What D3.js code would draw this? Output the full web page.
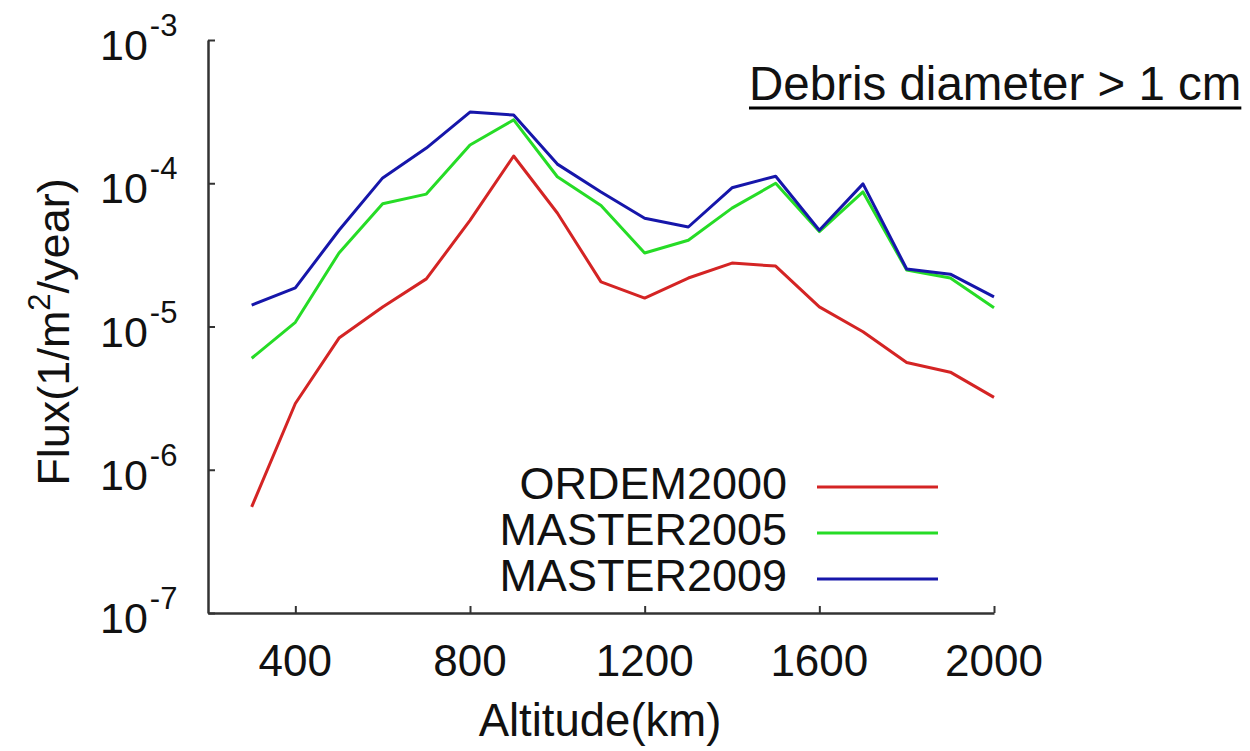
<!DOCTYPE html>
<html>
<head>
<meta charset="utf-8">
<script src="https://cdn.jsdelivr.net/npm/d3@7"></script>
<style>
  body { margin: 0; background: #fff; }
  text { font-family: "Liberation Sans", Arial, sans-serif; fill: #111; }
</style>
</head>
<body>
<div id="chart"></div>
<script>
// Altitude steps (km) and flux values (1/m^2/year).
const ALTITUDES = [300, 400, 500, 600, 700, 800, 900, 1000, 1100, 1200, 1300, 1400, 1500, 1600, 1700, 1800, 1900, 2000];
const ORDEM2000 = [5.5e-7, 2.9e-6, 8.3e-6, 1.37e-5, 2.15e-5, 5.5e-5, 1.55e-4, 6.2e-5, 2.05e-5, 1.58e-5, 2.18e-5, 2.77e-5, 2.64e-5, 1.37e-5, 9.2e-6, 5.6e-6, 4.8e-6, 3.2e-6];
const MASTER2005 = [6.0e-6, 1.07e-5, 3.26e-5, 7.2e-5, 8.4e-5, 1.85e-4, 2.77e-4, 1.11e-4, 7.0e-5, 3.26e-5, 4.0e-5, 6.7e-5, 1.0e-4, 4.6e-5, 8.7e-5, 2.48e-5, 2.18e-5, 1.35e-5];
const MASTER2009 = [1.41e-5, 1.86e-5, 4.7e-5, 1.09e-4, 1.76e-4, 3.14e-4, 2.99e-4, 1.36e-4, 8.7e-5, 5.7e-5, 4.95e-5, 9.3e-5, 1.12e-4, 4.7e-5, 9.9e-5, 2.52e-5, 2.32e-5, 1.61e-5];

const SERIES_NAMES = ['ORDEM2000', 'MASTER2005', 'MASTER2009'];
const SERIES_VALUES = [ORDEM2000, MASTER2005, MASTER2009];
const SERIES_COLORS = ['#d42424', '#26dc26', '#1616aa'];

const X_TICKS = [400, 800, 1200, 1600, 2000];
const Y_EXPONENTS = [-3, -4, -5, -6, -7];

const width = 1250;
const height = 751;
const plot = {left: 208, right: 994, top: 40, bottom: 613};

const svg = d3.select('#chart').append('svg')
    .attr('width', width)
    .attr('height', height);

const xScale = d3.scaleLinear()
    .domain([200, 2000])
    .range([plot.left, plot.right]);

const yScale = d3.scaleLog()
    .domain([1e-7, 1e-3])
    .range([plot.bottom, plot.top]);

// Axes, gnuplot style: ticks point inward.
const xAxis = d3.axisBottom(xScale)
    .tickValues(X_TICKS)
    .tickSizeInner(-7)
    .tickSizeOuter(0)
    .tickPadding(0)
    .tickFormat('');

const yAxis = d3.axisLeft(yScale)
    .tickValues(Y_EXPONENTS.map(e => Math.pow(10, e)))
    .tickSizeInner(-7)
    .tickSizeOuter(0)
    .tickFormat('');

const xAxisG = svg.append('g')
    .attr('transform', `translate(0,${plot.bottom})`)
    .call(xAxis);

const yAxisG = svg.append('g')
    .attr('transform', `translate(${plot.left},0)`)
    .call(yAxis);

[xAxisG, yAxisG].forEach(g => {
    g.selectAll('.domain').attr('stroke', '#333').attr('stroke-width', 2.5);
    g.selectAll('.tick line').attr('stroke', '#333').attr('stroke-width', 2);
});

// X tick labels.
svg.append('g').selectAll('text')
    .data(X_TICKS)
    .join('text')
    .attr('x', d => xScale(d))
    .attr('y', 676)
    .attr('text-anchor', 'middle')
    .style('font-size', '44px')
    .text(d => d);

// Y tick labels as 10 with a superscript exponent.
const yLabels = svg.append('g').selectAll('text')
    .data(Y_EXPONENTS)
    .join('text')
    .attr('x', 100)
    .attr('y', d => yScale(Math.pow(10, d)) + 20)
    .style('font-size', '43px');

yLabels.append('tspan').text('10');
yLabels.append('tspan')
    .attr('dy', -24)
    .attr('dx', 2)
    .style('font-size', '31px')
    .text(d => d);

// Axis titles.
svg.append('text')
    .attr('x', 600)
    .attr('y', 736)
    .attr('text-anchor', 'middle')
    .style('font-size', '45.5px')
    .text('Altitude(km)');

const yTitle = svg.append('text')
    .attr('transform', 'translate(69,332) rotate(-90)')
    .attr('text-anchor', 'middle')
    .style('font-size', '45px');
yTitle.append('tspan').text('Flux(1/m');
yTitle.append('tspan').attr('dy', -19).style('font-size', '31px').text('2');
yTitle.append('tspan').attr('dy', 19).text('/year)');

// Data lines.
const line = d3.line()
    .x((d, i) => xScale(ALTITUDES[i]))
    .y(d => yScale(d));

svg.append('g').selectAll('path')
    .data(SERIES_VALUES)
    .join('path')
    .attr('d', d => line(d))
    .attr('fill', 'none')
    .attr('stroke', (_, i) => SERIES_COLORS[i])
    .attr('stroke-width', 3)
    .attr('stroke-linejoin', 'round');

// Legend.
const legend = svg.append('g').selectAll('g')
    .data(SERIES_NAMES)
    .join('g')
    .attr('transform', (_, i) => `translate(0,${499 + i * 46})`);

legend.append('text')
    .attr('x', 787)
    .attr('text-anchor', 'end')
    .style('font-size', '45px')
    .text(d => d);

legend.append('line')
    .attr('x1', 817)
    .attr('x2', 938)
    .attr('y1', -12)
    .attr('y2', -12)
    .attr('stroke', (_, i) => SERIES_COLORS[i])
    .attr('stroke-width', 3);

// Underlined note in the top right corner.
const note = svg.append('text')
    .attr('x', 749)
    .attr('y', 100)
    .style('font-size', '47.5px')
    .text('Debris diameter > 1 cm');

const noteWidth = note.node().getComputedTextLength();
svg.append('line')
    .attr('x1', 749)
    .attr('x2', 749 + noteWidth)
    .attr('y1', 108)
    .attr('y2', 108)
    .attr('stroke', '#000')
    .attr('stroke-width', 3);
</script>
</body>
</html>
